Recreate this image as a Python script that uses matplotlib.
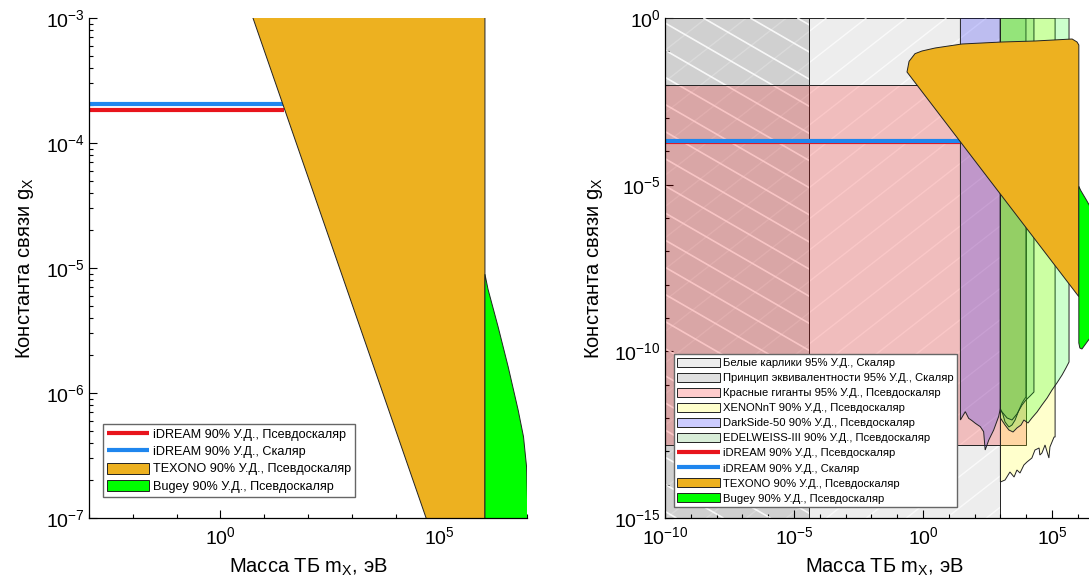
import numpy as np
import matplotlib
matplotlib.use('Agg')
import matplotlib.pyplot as plt
from matplotlib.collections import LineCollection
from matplotlib.ticker import FixedLocator, LogFormatterSciNotation, NullFormatter

plt.rcParams['font.family'] = ['Liberation Sans', 'DejaVu Sans']
plt.rcParams['mathtext.fontset'] = 'custom'
plt.rcParams['mathtext.rm'] = 'Liberation Sans'
plt.rcParams['mathtext.it'] = 'Liberation Sans:italic'
plt.rcParams['axes.unicode_minus'] = False

# ---------------- data (log10 of mass in eV / log10 of coupling) ----------------
idream_logm = [-10.0, 1.45]
idream_ps_logg = -3.733
idream_s_logg = -3.686

texono_logm = [-0.62, -0.54, -0.31, -0.04, 0.47, 1.51, 3.06, 4.34, 5.78, 5.97, 6.04, 6.04]
texono_logg = [-1.62, -1.30, -1.07, -0.99, -0.90, -0.78, -0.72, -0.69, -0.63, -0.72, -0.81, -8.36]

bugey_logm = [6.04, 6.11, 6.34, 6.57, 6.80, 6.92, 6.99, 7.02, 7.06, 7.10, 7.10, 6.90, 6.50, 6.16, 6.08, 6.04]
bugey_logg = [-5.05, -5.17, -5.47, -5.79, -6.14, -6.35, -6.59, -6.96, -7.50, -8.20, -8.60, -8.95, -9.57, -9.93, -9.90, -9.75]

wd_logm = [-10.0, 3.0]
wd_logg = [-15.0, 0.0]
eq_logm = [-10.0, -4.4]
eq_logg = [-15.0, 0.0]
rg_logm = [-10.0, 4.0]
rg_logg = [-12.8, -2.0]

ds_logm = [1.45, 1.64, 1.77, 1.90, 2.03, 2.22, 2.35, 2.41, 2.55, 2.74, 2.93, 3.00]
ds_logg = [-12.06, -11.81, -12.01, -12.08, -12.16, -12.26, -12.41, -12.96, -12.66, -12.36, -11.96, -11.71]

xe_logm = [3.00, 3.18, 3.37, 3.53, 3.64, 3.76, 3.91, 4.03, 4.22, 4.34, 4.50, 4.53, 4.61, 4.73, 4.88, 4.92, 5.08, 5.12]
xe_logg = [-13.92, -13.86, -13.62, -13.77, -13.56, -13.65, -13.41, -13.32, -13.20, -12.96, -12.90, -13.11, -13.05, -12.81, -13.20, -12.87, -12.57, -12.57]

ed1_logm = [3.00, 3.10, 3.18, 3.33, 3.45, 3.57, 3.72, 3.84, 3.91, 3.99]
ed1_logg = [-11.72, -11.90, -12.12, -12.27, -12.21, -12.06, -11.76, -11.55, -11.46, -11.37]
ed2_logm = [3.00, 3.26, 3.45, 3.64, 3.84, 3.99, 4.15, 4.30]
ed2_logg = [-11.76, -12.00, -12.06, -11.88, -11.61, -11.46, -11.34, -11.22]
ed3_logm = [3.00, 3.18, 3.33, 3.49, 3.64, 3.80, 3.91, 4.07, 4.22, 4.42, 4.61, 4.81, 5.00, 5.19, 5.39, 5.54, 5.66]
ed3_logg = [-12.00, -12.21, -12.36, -12.42, -12.30, -12.21, -12.06, -12.15, -12.00, -11.82, -11.61, -11.40, -11.16, -10.95, -10.71, -10.50, -10.32]

lbl_wd = 'Белые карлики 95% У.Д., Скаляр'
lbl_eq = 'Принцип эквивалентности 95% У.Д., Скаляр'
lbl_rg = 'Красные гиганты 95% У.Д., Псевдоскаляр'
lbl_xe = 'XENONnT 90% У.Д., Псевдоскаляр'
lbl_ds = 'DarkSide-50 90% У.Д., Псевдоскаляр'
lbl_ed = 'EDELWEISS-III 90% У.Д., Псевдоскаляр'
lbl_ips = 'iDREAM 90% У.Д., Псевдоскаляр'
lbl_is = 'iDREAM 90% У.Д., Скаляр'
lbl_tx = 'TEXONO 90% У.Д., Псевдоскаляр'
lbl_bg = 'Bugey 90% У.Д., Псевдоскаляр'

xlabel = 'Масса ТБ m$_\\mathrm{X}$, эВ'
ylabel = 'Константа связи g$_\\mathrm{X}$'

# ---------------- styles ----------------
C_TEX = '#EDB120'
C_BUG = '#00FF00'
C_RED = '#E8141C'
C_BLUE = '#1F86EE'
EDGE = '#222222'

W_PX, H_PX = 1089, 587
fig = plt.figure(figsize=(W_PX / 100, H_PX / 100), dpi=100)
fig.patch.set_facecolor('white')

axL = fig.add_axes([89 / W_PX, 69 / H_PX, 438 / W_PX, 500 / H_PX])
axR = fig.add_axes([665 / W_PX, 69 / H_PX, 438.6 / W_PX, 500 / H_PX])


def p10(a):
    return np.power(10.0, np.asarray(a, dtype=float))


def rect(ax, lm, lg, fc, z, label=None):
    xs = p10([lm[0], lm[1], lm[1], lm[0]])
    ys = p10([lg[0], lg[0], lg[1], lg[1]])
    return ax.fill(xs, ys, facecolor=fc, edgecolor=EDGE, linewidth=0.7, zorder=z, label=label)[0]


def topfill(ax, lm, lg, fc, z, label=None, top=0.0):
    xs = np.concatenate([p10(lm), p10([lm[-1], lm[0]])])
    ys = np.concatenate([p10(lg), p10([top, top])])
    return ax.fill(xs, ys, facecolor=fc, edgecolor=EDGE, linewidth=0.7, zorder=z, label=label)[0]


def add_hatch(ax, patch, angle, spacing, color, lw, alpha, z):
    bb = ax.get_position()
    W = bb.width * W_PX
    H = bb.height * H_PX
    t = np.tan(np.radians(angle))
    dx = H / t
    segs = []
    for x0 in np.arange(-abs(dx) - W, W + abs(dx) + spacing, spacing):
        segs.append([(x0 / W, 0.0), ((x0 + dx) / W, 1.0)])
    lc = LineCollection(segs, colors=color, linewidths=lw, alpha=alpha,
                        transform=ax.transAxes, zorder=z)
    ax.add_collection(lc)
    lc.set_clip_path(patch)


def style_axis(ax):
    ax.set_xscale('log')
    ax.set_yscale('log')
    for s in ['top', 'right']:
        ax.spines[s].set_visible(False)
    for s in ['left', 'bottom']:
        ax.spines[s].set_linewidth(0.9)
        ax.spines[s].set_zorder(20)
    ax.tick_params(which='both', direction='in', top=False, right=False, width=0.8, labelsize=14)
    ax.tick_params(which='major', length=5.5)
    ax.tick_params(which='minor', length=3)
    ax.tick_params(axis='x', pad=6)
    ax.tick_params(axis='y', pad=3)
    ax.set_xlabel(xlabel, fontsize=14.5, labelpad=6)
    ax.set_ylabel(ylabel, fontsize=14.5, labelpad=7)


# ---------------- left panel ----------------
axL.plot(p10(idream_logm), p10([idream_ps_logg] * 2), color=C_RED, lw=3, solid_capstyle='butt', zorder=5, label=lbl_ips)
axL.plot(p10(idream_logm), p10([idream_s_logg] * 2), color=C_BLUE, lw=3, solid_capstyle='butt', zorder=5, label=lbl_is)
axL.fill(p10(texono_logm), p10(texono_logg), facecolor=C_TEX, edgecolor=EDGE, lw=0.7, zorder=6, label=lbl_tx)
axL.fill(p10(bugey_logm), p10(bugey_logg), facecolor=C_BUG, edgecolor=EDGE, lw=0.7, zorder=7, label=lbl_bg)
style_axis(axL)
axL.set_xlim(1e-3, 1e7)
axL.set_ylim(1e-7, 1e-3)
axL.xaxis.set_major_locator(FixedLocator([1e0, 1e5]))
axL.xaxis.set_minor_locator(FixedLocator(p10(np.arange(-3, 8))))
axL.xaxis.set_major_formatter(LogFormatterSciNotation())
axL.xaxis.set_minor_formatter(NullFormatter())
axL.yaxis.set_major_locator(FixedLocator(p10(np.arange(-7, -2))))
axL.yaxis.set_minor_locator(FixedLocator([m * 10.0 ** e for e in range(-7, -3) for m in range(2, 10)]))
axL.yaxis.set_major_formatter(LogFormatterSciNotation())
axL.yaxis.set_minor_formatter(NullFormatter())
axL.legend(loc='lower left', bbox_to_anchor=(0.032, 0.042), borderaxespad=0, fontsize=9.1,
           frameon=True, fancybox=False, edgecolor='#666666', framealpha=1,
           handlelength=3.3, handleheight=0.95, handletextpad=0.3, labelspacing=0.34,
           borderpad=0.35)

# ---------------- right panel ----------------
pwd = rect(axR, wd_logm, wd_logg, (0, 0, 0, 0.07), 1, lbl_wd)
add_hatch(axR, pwd, 38, 40, 'white', 1.0, 0.7, 1.05)
peq = rect(axR, eq_logm, eq_logg, (0, 0, 0, 0.12), 2, lbl_eq)
add_hatch(axR, peq, -30, 47, 'white', 1.2, 0.85, 2.05)
rect(axR, rg_logm, rg_logg, (1, 0, 0, 0.2), 3, lbl_rg)
topfill(axR, xe_logm, xe_logg, (1, 1, 0, 0.2), 4, lbl_xe)
topfill(axR, ds_logm, ds_logg, (0, 0, 1, 0.2), 5, lbl_ds)
topfill(axR, ed1_logm, ed1_logg, (0.25, 0.65, 0.25, 0.2), 6, lbl_ed)
topfill(axR, ed2_logm, ed2_logg, (0.25, 0.65, 0.25, 0.2), 6.1)
topfill(axR, ed3_logm, ed3_logg, (0, 1, 0, 0.2), 6.2)
axR.plot(p10(idream_logm), p10([idream_ps_logg] * 2), color=C_RED, lw=3, solid_capstyle='butt', zorder=7, label=lbl_ips)
axR.plot(p10(idream_logm), p10([idream_s_logg] * 2), color=C_BLUE, lw=3, solid_capstyle='butt', zorder=7.1, label=lbl_is)
axR.fill(p10(texono_logm), p10(texono_logg), facecolor=C_TEX, edgecolor=EDGE, lw=0.7, zorder=8, label=lbl_tx)
axR.fill(p10(bugey_logm), p10(bugey_logg), facecolor=C_BUG, edgecolor=EDGE, lw=0.7, zorder=9, label=lbl_bg)
style_axis(axR)
axR.set_xlim(1e-10, 1e7)
axR.set_ylim(1e-15, 1e0)
axR.xaxis.set_major_locator(FixedLocator(p10([-10, -5, 0, 5])))
axR.xaxis.set_minor_locator(FixedLocator(p10(np.arange(-10, 8))))
axR.xaxis.set_major_formatter(LogFormatterSciNotation())
axR.xaxis.set_minor_formatter(NullFormatter())
axR.yaxis.set_major_locator(FixedLocator(p10([-15, -10, -5, 0])))
axR.yaxis.set_minor_locator(FixedLocator(p10(np.arange(-15, 1))))
axR.yaxis.set_major_formatter(LogFormatterSciNotation())
axR.yaxis.set_minor_formatter(NullFormatter())

hR, lR = axR.get_legend_handles_labels()
leg = axR.legend(hR, lR, loc='lower left', bbox_to_anchor=(0.0205, 0.022), borderaxespad=0, fontsize=8.1,
                 frameon=True, fancybox=False, edgecolor='#666666', framealpha=1,
                 handlelength=3.8, handleheight=0.9, handletextpad=0.3, labelspacing=0.4,
                 borderpad=0.3)
leg.set_zorder(30)

fig.savefig('out.png', dpi=100, facecolor='white')
